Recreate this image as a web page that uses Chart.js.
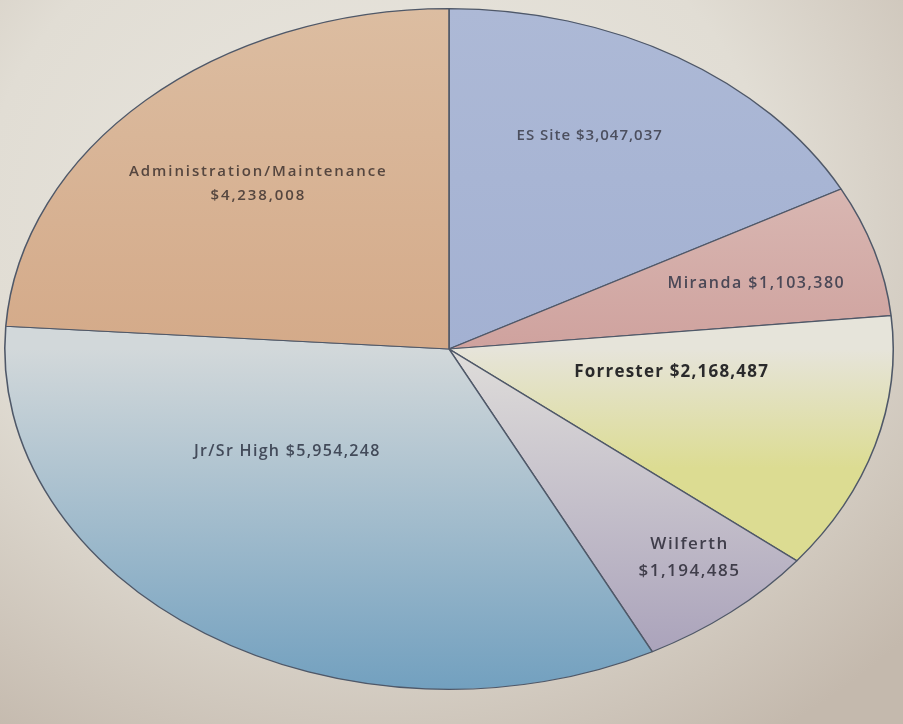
<!DOCTYPE html>
<html>
<head>
<meta charset="utf-8">
<title>Budget by Site</title>
<script src="https://cdn.jsdelivr.net/npm/chart.js@4/dist/chart.umd.min.js"></script>
<style>
  html, body { margin: 0; padding: 0; }
  body {
    width: 903px; height: 724px; overflow: hidden;
    background: radial-gradient(ellipse 80% 85% at 42% 30%, #e9e6df 0%, #e1ddd4 55%, #c4b9ad 100%);
  }
  canvas { display: block; }
</style>
</head>
<body>
<canvas id="pie" width="903" height="724"></canvas>
<script>
// Slices, clockwise from 12 o'clock
const categories = ['ES Site', 'Miranda', 'Forrester', 'Wilferth', 'Jr/Sr High', 'Administration/Maintenance'];
const amounts = [3047037, 1103380, 2168487, 1194485, 5954248, 4238008];
// Slices whose label puts the amount on its own line
const twoLineLabels = ['Wilferth', 'Administration/Maintenance'];

// Printed page is viewed at an angle, so the pie is stretched into an ellipse
const ASPECT_X = 445 / 341;

// Vertical shading per slice: [top colour, bottom colour, top y, bottom y] (y as fraction of radius from centre)
const sliceShades = [
  ['#adb9d6', '#a3b1d2', -1.0, 0.0],
  ['#d9b8b3', '#cfa29e', -0.5, 0.0],
  ['#e6e4da', '#dcdc92', 0.0, 0.35],
  ['#dfddda', '#a79fb9', 0.0, 0.95],
  ['#d2d8da', '#72a0bf', 0.0, 1.0],
  ['#dcbda1', '#d4aa89', -1.0, 0.0]
];

// Label placement: radial fraction and angular shift (degrees) from the slice's mid-angle
const labelPlacement = [
  { f: 0.703, da: -4.2 },
  { f: 0.718, da: 1.3 },
  { f: 0.506, da: -8.7 },
  { f: 0.8175, da: -2.1 },
  { f: 0.473, da: 17.0 },
  { f: 0.648, da: 1.6 }
];
const labelFonts = [
  { size: 15, weight: 600, color: '#4c4f5e', spacing: 1.0 },
  { size: 16, weight: 600, color: '#4b4856', spacing: 1.5 },
  { size: 17, weight: 700, color: '#2a2a2b', spacing: 1.2 },
  { size: 17, weight: 600, color: '#403e4b', spacing: 1.5 },
  { size: 16, weight: 600, color: '#434b5a', spacing: 1.3 },
  { size: 15, weight: 600, color: '#55463f', spacing: 1.9 }
];

const money = v => '$' + v.toLocaleString('en-US');

function shade(context) {
  const chart = context.chart;
  const area = chart.chartArea;
  const s = sliceShades[context.dataIndex];
  if (!area) return s[1];
  const cy = (area.top + area.bottom) / 2;
  const r = Math.min(area.right - area.left, area.bottom - area.top) / 2;
  const g = chart.ctx.createLinearGradient(0, cy + s[2] * r, 0, cy + s[3] * r);
  g.addColorStop(0, s[0]);
  g.addColorStop(1, s[1]);
  return g;
}

const ellipseAndLabels = {
  id: 'ellipseAndLabels',
  beforeDatasetsDraw(chart) {
    const arc = chart.getDatasetMeta(0).data[0];
    const ctx = chart.ctx;
    ctx.save();
    ctx.translate(arc.x, arc.y);
    ctx.scale(ASPECT_X, 1);
    ctx.translate(-arc.x, -arc.y);
  },
  afterDatasetsDraw(chart) {
    const ctx = chart.ctx;
    ctx.restore();
    const meta = chart.getDatasetMeta(0);
    meta.data.forEach((arc, i) => {
      const p = labelPlacement[i];
      const mid = (arc.startAngle + arc.endAngle) / 2 + p.da * Math.PI / 180;
      const x = arc.x + Math.cos(mid) * arc.outerRadius * p.f * ASPECT_X;
      const y = arc.y + Math.sin(mid) * arc.outerRadius * p.f;
      const name = chart.data.labels[i];
      const value = money(chart.data.datasets[0].data[i]);
      const lines = twoLineLabels.includes(name) ? [name, value] : [name + ' ' + value];
      const fnt = labelFonts[i];
      ctx.save();
      ctx.font = `${fnt.weight} ${fnt.size}px "Open Sans", "DejaVu Sans", sans-serif`;
      if ('letterSpacing' in ctx) ctx.letterSpacing = fnt.spacing + 'px';
      ctx.fillStyle = fnt.color;
      ctx.textAlign = 'center';
      ctx.textBaseline = 'middle';
      const lh = fnt.size * 1.55;
      lines.forEach((t, k) => {
        ctx.fillText(t, x, y + (k - (lines.length - 1) / 2) * lh);
      });
      ctx.restore();
    });
  }
};

new Chart(document.getElementById('pie'), {
  type: 'pie',
  data: {
    labels: categories,
    datasets: [{
      data: amounts,
      backgroundColor: shade,
      borderColor: '#4f5868',
      borderWidth: 1.2
    }]
  },
  options: {
    responsive: false,
    devicePixelRatio: 1,
    animation: false,
    layout: { padding: { top: 8, bottom: 34, left: 0, right: 5 } },
    plugins: {
      legend: { display: false },
      tooltip: { enabled: false }
    }
  },
  plugins: [ellipseAndLabels]
});
</script>
</body>
</html>
